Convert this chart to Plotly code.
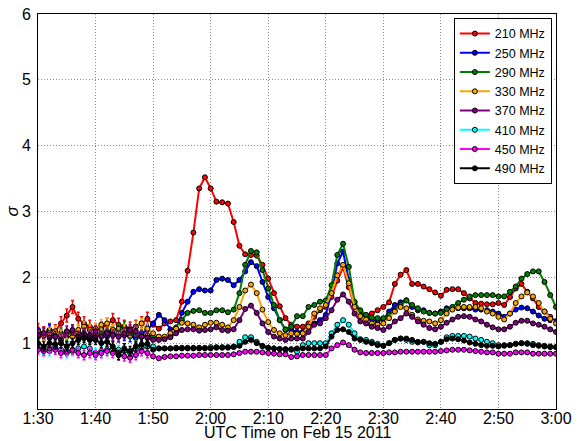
import pandas as pd
import plotly.graph_objects as go

# minute-by-minute timestamps, 1:30 .. 3:00 UTC on Feb 15 2011
times = pd.date_range("2011-02-15 01:30", "2011-02-15 03:00", freq="1min")

freqs = ["210 MHz", "250 MHz", "290 MHz", "330 MHz", "370 MHz", "410 MHz", "450 MHz", "490 MHz"]
colors = ["#ff0000", "#0000ff", "#008000", "#ffa500", "#800080", "#00ffff", "#ff00ff", "#000000"]
y_ticks = [1, 2, 3, 4, 5, 6]

s210 = [1.20,1.15,1.20,1.18,1.30,1.42,1.55,1.37,1.30,1.25,1.20,1.22,1.28,1.35,1.28,1.25,1.22,1.25,1.30,1.37,1.28,
        1.22,1.30,1.33,1.35,1.63,2.10,2.68,3.35,3.52,3.35,3.15,3.14,3.12,2.84,2.48,2.35,2.34,2.33,2.19,1.98,1.76,1.56,1.38,1.28,1.25,
        1.25,1.30,1.40,1.50,1.55,1.70,1.95,2.15,1.85,1.55,1.45,
        1.42,1.45,1.50,1.55,1.62,1.90,2.04,2.11,1.90,1.90,
        1.86,1.82,1.77,1.72,1.81,1.82,1.82,1.76,1.68,1.61,1.60,1.59,1.59,1.61,1.58,1.70,1.83,1.90,1.78,1.68,1.55,1.48,1.40,1.33]
s250 = [1.15,1.12,1.20,1.10,1.12,1.10,1.15,1.10,1.12,1.08,1.10,1.12,1.10,1.15,1.10,1.12,1.10,1.08,1.15,1.20,
        1.30,1.43,1.35,1.21,1.20,1.46,1.63,1.78,1.82,1.80,1.80,1.96,1.98,1.96,1.88,1.96,2.09,2.23,2.17,1.93,1.70,1.53,1.35,1.20,
        1.20,1.17,1.17,1.25,1.30,1.35,1.43,1.76,2.21,2.39,1.96,1.61,1.48,1.40,1.35,1.34,1.36,1.48,1.58,1.62,1.65,1.55,1.50,
        1.50,1.46,1.45,1.48,1.53,1.53,1.53,1.53,1.53,1.51,1.51,1.50,1.48,1.45,1.40,1.45,1.51,1.54,1.53,1.48,1.42,1.37,1.35,1.33]
s290 = [1.10,1.15,1.12,1.10,1.15,1.12,1.18,1.15,1.12,1.10,1.12,1.15,1.18,1.20,1.22,1.25,1.15,1.12,1.10,1.12,
        1.10,1.09,1.09,1.12,1.24,1.35,1.46,1.49,1.50,1.46,1.46,1.50,1.50,1.47,1.51,1.76,2.19,2.40,2.38,2.11,1.83,1.58,1.35,1.21,
        1.25,1.41,1.41,1.55,1.58,1.63,1.65,1.88,2.34,2.51,2.16,1.63,1.50,1.43,1.39,1.38,1.38,1.43,1.50,1.58,1.65,1.58,1.53,
        1.48,1.46,1.45,1.46,1.51,1.55,1.61,1.66,1.71,1.73,1.73,1.73,1.73,1.71,1.71,1.78,1.86,1.98,2.05,2.09,2.09,1.93,1.73,1.55]
s330 = [1.10,1.12,1.15,1.18,1.12,1.15,1.10,1.20,1.25,1.20,1.22,1.28,1.30,1.20,1.15,1.20,1.18,1.25,1.30,1.22,
        1.15,1.10,1.10,1.15,1.22,1.31,1.30,1.28,1.24,1.28,1.31,1.31,1.28,1.24,1.35,1.55,1.80,1.89,1.76,1.51,1.32,1.20,1.15,1.12,
        1.15,1.14,1.15,1.25,1.45,1.53,1.58,1.76,2.03,2.19,1.91,1.55,1.41,1.36,1.30,1.28,1.30,1.38,1.48,1.55,1.53,1.43,1.36,
        1.34,1.33,1.30,1.35,1.45,1.51,1.54,1.55,1.55,1.55,1.53,1.48,1.45,1.40,1.36,1.45,1.61,1.71,1.77,1.71,1.61,1.48,1.37,1.30]
s370 = [1.12,1.15,1.08,1.10,1.05,1.18,1.20,1.10,1.15,1.12,1.18,1.10,1.15,1.12,1.10,1.15,1.20,1.18,1.10,1.08,
        1.05,1.05,1.06,1.09,1.15,1.20,1.21,1.21,1.19,1.20,1.21,1.24,1.20,1.19,1.21,1.35,1.52,1.57,1.46,1.30,1.17,1.10,1.07,1.05,
        1.07,1.07,1.07,1.17,1.28,1.30,1.38,1.50,1.66,1.74,1.63,1.45,1.33,1.30,1.25,1.23,1.20,1.25,1.33,1.38,1.45,1.40,1.33,
        1.28,1.23,1.21,1.25,1.31,1.36,1.40,1.41,1.40,1.36,1.33,1.28,1.24,1.21,1.21,1.25,1.31,1.34,1.34,1.30,1.28,1.25,1.21,1.17]
s410 = [0.92,0.90,0.88,0.95,0.90,0.85,0.88,0.92,0.95,0.92,0.85,0.88,0.90,0.92,0.90,0.88,0.85,0.90,0.92,0.95,
        0.95,0.92,0.92,0.92,0.93,0.93,0.93,0.93,0.93,0.93,0.94,0.94,0.94,0.94,0.95,1.02,1.09,1.09,1.02,0.95,0.93,0.92,0.91,0.90,
        0.90,0.87,0.97,1.00,1.00,1.00,1.00,1.15,1.28,1.35,1.28,1.15,1.06,1.05,1.02,0.99,0.96,1.00,1.05,1.07,1.05,1.02,1.01,
        1.02,0.97,0.97,1.02,1.09,1.11,1.11,1.11,1.10,1.07,1.05,1.02,1.00,0.97,0.97,0.97,0.99,1.00,1.00,0.99,0.97,0.96,0.95,0.94]
s450 = [0.90,0.88,0.92,0.90,0.85,0.88,0.90,0.85,0.82,0.85,0.82,0.85,0.88,0.85,0.82,0.80,0.78,0.82,0.88,0.85,0.80,
        0.77,0.79,0.80,0.80,0.81,0.81,0.81,0.82,0.82,0.82,0.82,0.82,0.82,0.83,0.85,0.87,0.87,0.87,0.86,0.85,0.84,0.83,0.83,
        0.79,0.80,0.82,0.82,0.82,0.82,0.82,0.92,0.97,1.01,0.97,0.90,0.86,0.85,0.85,0.85,0.85,0.86,0.86,0.87,0.87,0.87,0.87,
        0.87,0.87,0.87,0.88,0.89,0.90,0.90,0.90,0.89,0.88,0.87,0.86,0.86,0.84,0.84,0.84,0.86,0.86,0.86,0.84,0.84,0.84,0.84,0.84]
s490 = [1.00,0.95,1.00,0.98,1.00,0.95,1.00,1.05,1.08,1.05,1.05,1.00,1.02,0.95,0.82,0.92,0.88,0.95,0.98,0.99,0.90,
        0.92,0.92,0.92,0.92,0.92,0.92,0.92,0.92,0.92,0.92,0.93,0.93,0.93,0.94,0.96,1.02,1.05,1.00,0.96,0.93,0.92,0.91,0.91,
        0.91,0.92,0.92,0.92,0.92,0.92,0.95,1.10,1.20,1.21,1.17,1.07,1.05,1.02,1.00,0.97,0.96,1.00,1.05,1.07,1.07,1.05,1.02,
        1.02,1.00,0.99,1.02,1.06,1.07,1.06,1.04,1.01,0.99,0.97,0.96,0.96,0.95,0.96,0.97,0.99,1.00,0.99,0.97,0.96,0.95,0.94,0.94]

series = [s210, s250, s290, s330, s370, s410, s450, s490]
# error-bar half-widths for the early (pre-1:50) measurements
early_err = [0.10, 0.08, 0.08, 0.08, 0.08, 0.07, 0.07, 0.07]
n_early = 20  # points before 1:50 carry error bars

fig = go.Figure()
for name, col, vals, e in zip(freqs, colors, series, early_err):
    errs = [e if i < n_early else 0 for i in range(len(vals))]
    fig.add_trace(go.Scatter(
        x=times, y=vals, name=name, mode="lines+markers",
        line=dict(color=col, width=2),
        marker=dict(size=5, color=col, line=dict(color="#000000", width=1)),
        error_y=dict(type="data", array=errs, visible=True, color=col, thickness=1.5, width=1.5),
    ))

font = "Liberation Sans, Arial, sans-serif"
grid = dict(showgrid=True, gridcolor="#8c8c8c", griddash="1px,2px", gridwidth=1,
            showline=True, linecolor="black", linewidth=1, mirror=True,
            ticks="", zeroline=False, tickfont=dict(size=16), automargin=False)
fig.update_layout(
    width=584, height=441,
    margin=dict(l=38, r=28, t=14, b=32, autoexpand=False),
    paper_bgcolor="white", plot_bgcolor="white",
    font=dict(family=font, size=16, color="black"),
    showlegend=True,
    legend=dict(x=0.992, y=0.99, xanchor="right", yanchor="top",
                bgcolor="white", bordercolor="black", borderwidth=1,
                font=dict(family=font, size=12.5, color="black"),
                itemwidth=30),
    xaxis=dict(
        range=["2011-02-15 01:30", "2011-02-15 03:00"],
        dtick=600000, tickformat="%-H:%M", ticklabelstandoff=-5, **grid,
    ),
    yaxis=dict(
        range=[0, 6], tickvals=y_ticks, ticklabelstandoff=3, **grid,
    ),
    annotations=[
        dict(text="UTC Time on Feb 15 2011", xref="paper", yref="paper",
             x=0.5, y=-0.059, xanchor="center", yanchor="middle",
             showarrow=False, font=dict(size=16)),
        dict(text="<i>σ</i>", xref="paper", yref="paper",
             x=-0.05, y=0.5, xanchor="center", yanchor="middle", textangle=-90,
             showarrow=False, font=dict(size=17)),
    ],
)

fig.write_html("out.html", config={"displayModeBar": False},
               post_script="document.body.style.margin='0';document.body.style.padding='0';")
